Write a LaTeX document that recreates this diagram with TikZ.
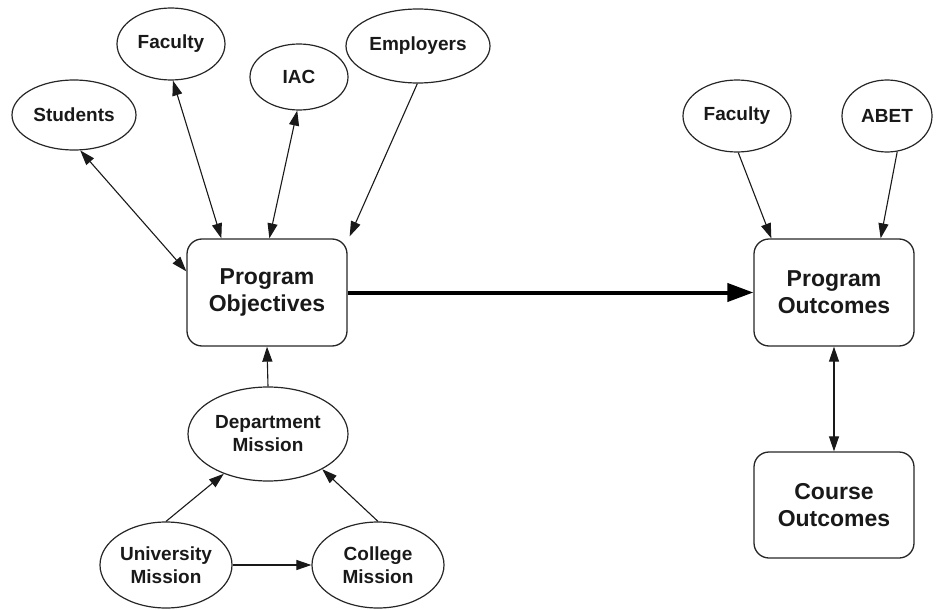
\documentclass[tikz,border=0pt]{standalone}
\usepackage{fontspec}
\setmainfont{Liberation Sans}
\usetikzlibrary{shapes.geometric,arrows.meta,calc}
\begin{document}
\begin{tikzpicture}[x=1pt,y=-1pt,
  every node/.style={font=\bfseries, text=black!90},
  oval/.style={ellipse, draw=black!85, line width=1.2pt, inner sep=0pt,
    align=center, font=\fontsize{19}{23}\selectfont\bfseries},
  stage/.style={rectangle, rounded corners=15pt, draw=black!85, line width=1.3pt,
    minimum width=160pt, minimum height=107pt, inner sep=0pt,
    align=center, font=\fontsize{23}{27}\selectfont\bfseries},
  tip/.style={Triangle[length=15pt,width=10pt]},
  link/.style={draw=black!90, line width=1.1pt, -{Triangle[length=15pt,width=10pt]}},
  both/.style={link, {Triangle[length=15pt,width=10pt]}-{Triangle[length=15pt,width=10pt]}},
  flow/.style={draw=black, line width=4pt, -{Triangle[length=26pt,width=18pt]}}]
\useasboundingbox (0,0) rectangle (940,610);

% stakeholders of the program objectives
\node[oval, minimum width=124pt, minimum height=70pt] (stu) at (74,115) {Students};
\node[oval, minimum width=108pt, minimum height=72pt] (facl) at (171,44) {Faculty};
\node[oval, minimum width=98pt, minimum height=66pt] (iac) at (299,77) {IAC};
\node[oval, minimum width=144pt, minimum height=74pt] (emp) at (418,46) {Employers};

% stakeholders of the program outcomes
\node[oval, minimum width=108pt, minimum height=72pt] (facr) at (737,116) {Faculty};
\node[oval, minimum width=90pt, minimum height=72pt] (abet) at (887,116) {ABET};

% main stages
\node[stage] (obj) at (267,292.5) {Program\\Objectives};
\node[stage] (pout) at (834,292.5) {Program\\Outcomes};
\node[stage, minimum height=106pt] (cout) at (834,505) {Course\\Outcomes};

% missions
\node[oval, minimum width=160pt, minimum height=94pt] (dm) at (268,434) {Department\\Mission};
\node[oval, minimum width=132pt, minimum height=86pt] (um) at (166,565) {University\\Mission};
\node[oval, minimum width=132pt, minimum height=86pt] (cm) at (378,565) {College\\Mission};

% connectors
\draw[both] (stu.-80) -- ($(obj.north west)+(0,33)$);
\draw[both] (facl.-87) -- ($(obj.north west)+(35,0)$);
\draw[both] (iac.-93) -- ($(obj.north west)+(83,0)$);
\draw[link] (emp.-91) -- ($(obj.north east)+(2,-2)$);

\draw[link] (facr.-88) -- ($(pout.north west)+(18,0)$);
\draw[link] (abet.-74) -- ($(pout.north east)+(-34,0)$);

\draw[flow] (obj.east) -- (pout.west);
\draw[both] (pout.south) -- (cout.north);

\draw[link] (dm.north) -- (obj.south);
\draw[link] (um.north) -- (dm.-138);
\draw[link] (cm.north) -- (dm.-33);
\draw[link] (um.east) -- (cm.west);
\end{tikzpicture}
\end{document}
